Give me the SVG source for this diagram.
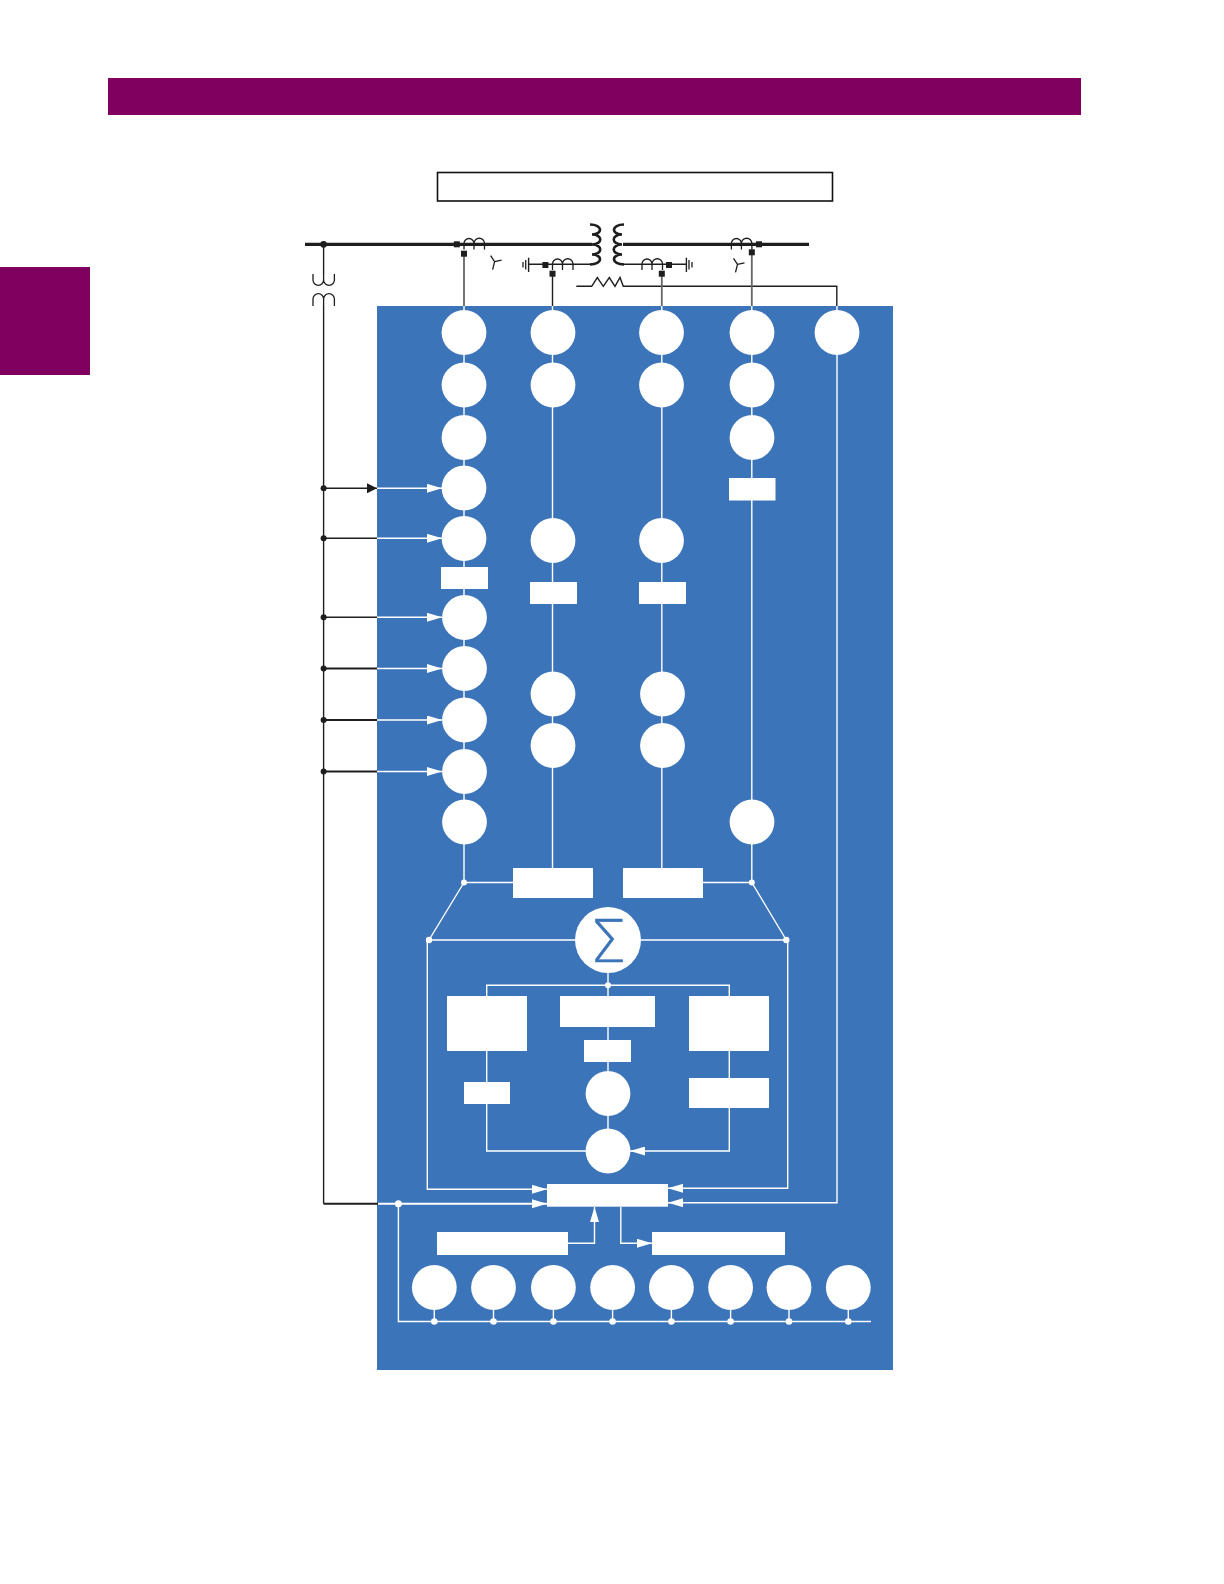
<svg xmlns="http://www.w3.org/2000/svg" width="1224" height="1584" viewBox="0 0 1224 1584">
<style>
.band{fill:#800060}
.panel{fill:#3c74b9}
.n{fill:#fff}
.w{fill:none;stroke:#fff;stroke-width:1.4}
.w2{fill:none;stroke:#fff;stroke-width:2}
.k{fill:none;stroke:#1e1e1e;stroke-width:1.4}
.k2{fill:none;stroke:#1e1e1e;stroke-width:2}
.bus{fill:none;stroke:#1e1e1e;stroke-width:3.2}
.g{fill:none;stroke:#666;stroke-width:1.8}
.c{fill:none;stroke:#1e1e1e;stroke-width:1.3}
.tx{fill:none;stroke:#1e1e1e;stroke-width:2.6}
.sq{fill:#1e1e1e}
.dot{fill:#fff}
</style>
<defs>
<marker id="wa" viewBox="0 0 15 9" refX="15" refY="4.500" markerWidth="15" markerHeight="9" markerUnits="userSpaceOnUse" orient="auto"><path d="M0 0L15 4.500L0 9Z" fill="#fff"/></marker>
<marker id="ka" viewBox="0 0 10 10" refX="10" refY="5" markerWidth="10" markerHeight="10" markerUnits="userSpaceOnUse" orient="auto"><path d="M0 0L10 5L0 10Z" fill="#1e1e1e"/></marker>
<path id="ct" d="M0 11V5A5 5 0 0 1 10 5V11M10 5A5 5 0 0 1 20.500 5V11" class="c"/>
<path id="wye" d="M0 0L-4 -6M0 0L7 -1.500M0 0L-2 8" class="c"/>
<path id="coil" d="M0 0C13 0 13 10 2 10C13 10 13 20 2 20C13 20 13 30 2 30C13 30 13 40 0 40" class="tx"/>
</defs>
<rect id="header-band" class="band" x="108" y="78" width="973" height="37"/>
<rect id="side-tab" class="band" x="0" y="267" width="90" height="108"/>
<rect id="title-box" x="437.500" y="172.500" width="395" height="28.500" fill="#fff" stroke="#111" stroke-width="1.600"/>
<rect id="panel" class="panel" x="377" y="306" width="516" height="1064"/>
<g id="connectors">
<path class="bus" d="M305 244.300H592M623 244.300H809"/>
<path class="k" d="M528.600 264.300H591M623 264.300H686.400"/>
<path class="k" d="M323.600 244V274M323.600 306V1203.700"/>
<path class="k2" d="M323.600 1203.700H378"/>
<path class="k" d="M576.300 286.300H591.700L597.300 277.500L603.300 286.300L609.300 277.500L615 286.300L620 277.500L623.300 286.300H836.800V306"/>
<path class="g" d="M464 254V306M661.800 274V306M751.800 253V306"/>
<path class="k" d="M552.500 274V306"/>
<path class="k" d="M323.600 488.300H368"/>
<path class="k" d="M368 488.300H377" marker-end="url(#ka)"/>
<path class="k" d="M323.600 538.300H377M323.600 617.300H377"/>
<path class="k2" d="M323.600 668.500H377M323.600 720H377M323.600 771.500H377"/>
<path class="w" d="M377 488.300H442" marker-end="url(#wa)"/>
<path class="w" d="M377 538.300H442" marker-end="url(#wa)"/>
<path class="w" d="M377 617.300H442" marker-end="url(#wa)"/>
<path class="w" d="M377 668.500H442" marker-end="url(#wa)"/>
<path class="w" d="M377 720H442" marker-end="url(#wa)"/>
<path class="w" d="M377 771.500H442" marker-end="url(#wa)"/>
<path class="w" d="M464 306V882.500H513M552.500 306V868M661.800 306V868M751.800 306V882.500H703"/>
<path class="w" d="M837 306V1202.700H668" marker-end="url(#wa)"/>
<path class="w" d="M464 882.500L429 940M751.800 882.500L786.300 940M429 940H787M608 940V1062"/>
<path class="w" d="M486.700 996V985.300H729.300V996"/>
<path class="w" d="M486.700 1051V1151H586M729.300 1051V1151H630" marker-end="url(#wa)"/>
<path class="w" d="M608 1062V1130"/>
<path class="w" d="M427.300 940V1189.300H547" marker-end="url(#wa)"/>
<path class="w" d="M787.700 940V1188.300H668" marker-end="url(#wa)"/>
<path class="w2" d="M378 1203.700H547" marker-end="url(#wa)"/>
<path class="w" d="M568 1243.300H594.500V1207" marker-end="url(#wa)"/>
<path class="w" d="M620.800 1207V1243.300H652" marker-end="url(#wa)"/>
<path class="w" d="M398.400 1203.700V1321.500H871"/>
<path class="w" d="M434.300 1300V1321M493.500 1300V1321M553.400 1300V1321M612.600 1300V1321M671.400 1300V1321M730.600 1300V1321M789 1300V1321M848.300 1300V1321"/>
<g class="dot"><circle cx="464" cy="882.500" r="3"/><circle cx="751.800" cy="882.500" r="3"/><circle cx="429" cy="940" r="3.200"/><circle cx="786.300" cy="940" r="3.200"/><circle cx="608" cy="985.300" r="3"/><circle cx="398.400" cy="1203.700" r="3.500"/><circle cx="434.300" cy="1321.500" r="3.300"/><circle cx="493.500" cy="1321.500" r="3.300"/><circle cx="553.400" cy="1321.500" r="3.300"/><circle cx="612.600" cy="1321.500" r="3.300"/><circle cx="671.400" cy="1321.500" r="3.300"/><circle cx="730.600" cy="1321.500" r="3.300"/><circle cx="789" cy="1321.500" r="3.300"/><circle cx="848.300" cy="1321.500" r="3.300"/></g>
<g fill="#1e1e1e"><circle cx="323.600" cy="244.300" r="3.400"/><circle cx="323.600" cy="488.300" r="3"/><circle cx="323.600" cy="538.300" r="3"/><circle cx="323.600" cy="617.300" r="3"/><circle cx="323.600" cy="668.500" r="3"/><circle cx="323.600" cy="720" r="3"/><circle cx="323.600" cy="771.500" r="3"/></g>
</g>
<g id="transformer"><use href="#coil" x="590" y="224.500"/><use href="#coil" transform="translate(624 224.500) scale(-1 1)"/></g>
<g id="vt"><path class="c" d="M313 274V280A5.300 5.300 0 0 0 323.600 280V274M323.600 280A5.300 5.300 0 0 0 334.400 280V274"/><path class="c" d="M313 306V299A5.300 5.300 0 0 1 323.600 299V306M323.600 299A5.300 5.300 0 0 1 334.400 299V306"/></g>
<g id="ct-hv"><use href="#ct" x="464" y="238.500"/><rect class="sq" x="453.800" y="241.300" width="6" height="6"/><rect class="sq" x="461" y="250.700" width="6" height="6"/><use href="#wye" x="494.600" y="261.700"/></g>
<g id="ct-lv1"><use href="#ct" x="552.500" y="259"/><rect class="sq" x="542.400" y="262" width="6" height="6"/><rect class="sq" x="549.500" y="270.700" width="6" height="6"/>
<path class="k" d="M528.600 257.700V272"/><path class="c" d="M525.700 260V269.500M523 262V267.500"/></g>
<g id="ct-lv2"><use href="#ct" x="642" y="259"/><rect class="sq" x="666" y="262" width="6" height="6"/><rect class="sq" x="658.800" y="270.700" width="6" height="6"/>
<path class="k" d="M686.400 257.700V272"/><path class="c" d="M689 260V269.500M692 262V267.500"/></g>
<g id="ct-mv"><use href="#ct" x="731.400" y="238.500"/><rect class="sq" x="756" y="241.300" width="6" height="6"/><rect class="sq" x="748.800" y="249.300" width="6" height="6"/><use href="#wye" x="737.500" y="264.300"/></g>
<g id="col1" class="n">
<circle cx="464" cy="332.500" r="22.400"/><circle cx="464" cy="385" r="22.400"/><circle cx="464" cy="437.500" r="22.400"/><circle cx="464" cy="488" r="22.400"/><circle cx="464" cy="538.500" r="22.400"/><rect x="441" y="567" width="47" height="22"/><circle cx="464.500" cy="617.500" r="22.400"/><circle cx="464.500" cy="668.500" r="22.400"/><circle cx="464.500" cy="720" r="22.400"/><circle cx="464.500" cy="771.500" r="22.400"/><circle cx="464.500" cy="822" r="22.400"/></g>
<g id="col2" class="n"><circle cx="553" cy="332.500" r="22.400"/><circle cx="553" cy="385" r="22.400"/><circle cx="553" cy="540.500" r="22.400"/><rect x="530" y="582" width="47" height="22"/><circle cx="553" cy="694" r="22.400"/><circle cx="553" cy="745.500" r="22.400"/></g>
<g id="col3" class="n"><circle cx="661.500" cy="332.500" r="22.400"/><circle cx="661.500" cy="385" r="22.400"/><circle cx="661.500" cy="540.500" r="22.400"/><rect x="639" y="582" width="47" height="22"/><circle cx="662.500" cy="694" r="22.400"/><circle cx="662.500" cy="745.500" r="22.400"/></g>
<g id="col4" class="n"><circle cx="752" cy="332.500" r="22.400"/><circle cx="752" cy="385" r="22.400"/><circle cx="752" cy="437.500" r="22.400"/><rect x="729" y="478" width="46.500" height="22.500"/><circle cx="752" cy="822" r="22.400"/></g>
<g id="col5" class="n"><circle cx="837" cy="332.500" r="22.400"/></g>
<g id="combine" class="n"><rect x="513" y="868" width="80" height="30"/><rect x="623" y="868" width="80" height="30"/></g>
<g id="sum"><circle class="n" cx="608" cy="940" r="33"/><text x="608" y="961.500" text-anchor="middle" font-family="DejaVu Sans, sans-serif" font-weight="200" font-size="58" fill="#3c74b9" stroke="#3c74b9" stroke-width="0.500">Σ</text></g>
<g id="logic" class="n"><rect x="447" y="996" width="80" height="55"/><rect x="560" y="996" width="95" height="31"/><rect x="689" y="996" width="80" height="55"/><rect x="584" y="1040" width="47" height="22"/><rect x="464" y="1082" width="46" height="22"/><rect x="689" y="1078" width="80" height="30"/><circle cx="608" cy="1093.500" r="22.400"/><circle cx="608" cy="1151" r="22.400"/></g>
<g id="output" class="n"><rect x="547" y="1184" width="121" height="22.700"/><rect x="437" y="1232" width="131" height="23"/><rect x="652" y="1232" width="133" height="23"/></g>
<g id="row" class="n"><circle cx="434.300" cy="1287.500" r="22.400"/><circle cx="493.500" cy="1287.500" r="22.400"/><circle cx="553.400" cy="1287.500" r="22.400"/><circle cx="612.600" cy="1287.500" r="22.400"/><circle cx="671.400" cy="1287.500" r="22.400"/><circle cx="730.600" cy="1287.500" r="22.400"/><circle cx="789" cy="1287.500" r="22.400"/><circle cx="848.300" cy="1287.500" r="22.400"/></g>
</svg>
